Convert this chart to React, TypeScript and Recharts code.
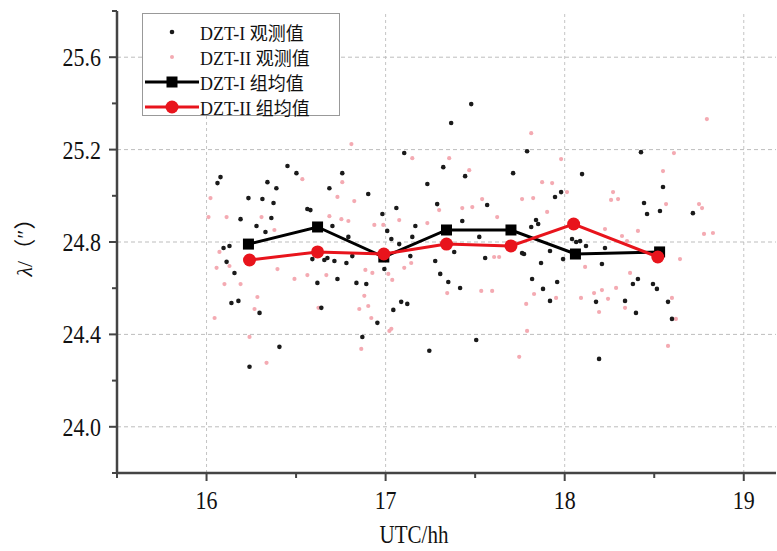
import React from 'react';
import { ScatterChart, Scatter, XAxis, YAxis, ReferenceLine } from 'recharts';

const seriesNames = ['DZT-I 观测值', 'DZT-II 观测值', 'DZT-I 组均值', 'DZT-II 组均值'];

const xTicks = [15.5, 16, 16.5, 17, 17.5, 18, 18.5, 19];
const xMajor = [16, 17, 18, 19];
const yTicks = [23.8, 24.0, 24.2, 24.4, 24.6, 24.8, 25.0, 25.2, 25.4, 25.6, 25.8];
const yMajor = [24.0, 24.4, 24.8, 25.2, 25.6];

// DZT-I observations [hour, value]
const dzt1Obs = [
  [16.078, 25.081], [16.061, 25.055], [16.095, 24.774], [16.128, 24.783], [16.112, 24.714],
  [16.156, 24.666], [16.139, 24.536], [16.178, 24.545], [16.234, 24.99], [16.19, 24.899],
  [16.279, 24.869], [16.312, 24.986], [16.296, 24.493], [16.24, 24.26], [16.34, 25.059],
  [16.39, 25.033], [16.374, 24.969], [16.362, 24.904], [16.329, 24.843], [16.452, 25.129],
  [16.502, 25.098], [16.407, 24.346], [16.563, 24.943], [16.58, 24.938], [16.686, 25.033],
  [16.758, 25.098], [16.703, 24.869], [16.591, 24.726], [16.658, 24.722], [16.675, 24.731],
  [16.714, 24.718], [16.781, 24.709], [16.731, 24.64], [16.619, 24.623], [16.641, 24.515],
  [16.837, 24.623], [16.892, 24.618], [16.903, 25.008], [16.792, 24.822], [16.814, 24.739],
  [16.87, 24.389], [16.954, 24.45], [16.982, 24.921], [17.009, 24.848], [17.032, 24.813],
  [17.06, 24.947], [17.043, 24.506], [16.993, 24.683], [17.478, 25.397], [17.366, 25.315],
  [17.104, 25.185], [17.322, 25.124], [17.444, 25.085], [17.233, 25.051], [17.79, 25.193],
  [17.712, 25.098], [17.288, 24.964], [17.567, 24.96], [17.166, 24.869], [17.149, 24.822],
  [17.076, 24.791], [17.428, 24.891], [17.523, 24.822], [17.946, 24.995], [17.98, 25.016],
  [17.84, 24.895], [17.852, 24.878], [17.813, 24.865], [17.383, 24.757], [17.138, 24.739],
  [17.277, 24.718], [17.556, 24.731], [17.762, 24.752], [17.773, 24.748], [17.868, 24.709],
  [17.918, 24.761], [17.991, 24.726], [17.305, 24.662], [17.35, 24.627], [17.416, 24.601],
  [17.818, 24.64], [17.958, 24.627], [17.879, 24.597], [17.918, 24.545], [17.087, 24.541],
  [17.121, 24.532], [17.506, 24.376], [17.244, 24.329], [18.175, 24.541], [18.192, 24.294],
  [18.097, 25.094], [18.426, 25.189], [18.549, 25.038], [18.443, 24.969], [18.46, 24.921],
  [18.532, 24.934], [18.716, 24.925], [18.041, 24.813], [18.064, 24.8], [18.086, 24.804],
  [18.119, 24.783], [18.225, 24.774], [18.208, 24.705], [18.409, 24.64], [18.381, 24.618],
  [18.493, 24.618], [18.515, 24.597], [18.337, 24.545], [18.577, 24.541], [18.398, 24.493],
  [18.599, 24.467],
];

// DZT-II observations [hour, value]
const dzt2Obs = [
  [16.022, 24.99], [16.011, 24.908], [16.112, 24.908], [16.072, 24.757], [16.056, 24.688],
  [16.1, 24.618], [16.045, 24.471], [16.128, 24.696], [16.19, 24.618], [16.284, 24.562],
  [16.268, 24.51], [16.24, 24.389], [16.335, 24.277], [16.307, 24.908], [16.379, 24.852],
  [16.396, 24.683], [16.535, 25.072], [16.491, 24.64], [16.563, 24.657], [16.669, 24.657],
  [16.625, 24.515], [16.686, 24.912], [16.753, 24.899], [16.792, 24.891], [16.731, 24.995],
  [16.825, 24.977], [16.758, 25.059], [16.809, 25.224], [16.881, 24.567], [16.903, 24.523],
  [16.853, 24.51], [16.92, 24.471], [16.864, 24.337], [17.021, 24.415], [16.887, 24.679],
  [16.926, 24.666], [16.987, 24.874], [16.937, 24.874], [17.015, 24.662], [17.037, 24.636],
  [17.149, 25.163], [17.355, 25.163], [17.467, 25.111], [17.813, 25.271], [17.98, 25.159],
  [17.874, 25.059], [17.299, 24.938], [17.484, 24.951], [17.539, 24.986], [17.623, 24.908],
  [17.762, 24.986], [17.824, 24.99], [17.902, 24.93], [18.013, 25.016], [17.076, 24.895],
  [17.233, 24.882], [17.428, 24.947], [17.606, 24.735], [17.634, 24.735], [17.104, 24.688],
  [17.143, 24.709], [17.344, 24.579], [17.534, 24.588], [17.595, 24.588], [17.829, 24.575],
  [17.785, 24.532], [17.032, 24.424], [17.79, 24.415], [17.746, 24.303], [17.952, 24.558],
  [17.93, 25.055], [18.794, 25.332], [18.61, 25.185], [18.549, 25.107], [18.27, 25.016],
  [18.259, 24.982], [18.298, 24.986], [18.566, 24.964], [18.75, 24.964], [18.767, 24.947],
  [18.778, 24.835], [18.828, 24.839], [18.225, 24.856], [18.409, 24.848], [18.32, 24.826],
  [18.348, 24.804], [18.644, 24.726], [18.114, 24.692], [18.365, 24.666], [18.287, 24.601],
  [18.208, 24.592], [18.164, 24.579], [18.242, 24.554], [18.091, 24.558], [18.337, 24.515],
  [18.192, 24.497], [18.599, 24.558], [18.621, 24.467], [18.577, 24.35],
];

const dzt1MeanX = [16.234, 16.62, 16.99, 17.34, 17.7, 18.06, 18.53];
const dzt1MeanY = [24.791, 24.865, 24.735, 24.852, 24.852, 24.748, 24.757];
const dzt2MeanX = [16.24, 16.62, 16.99, 17.34, 17.7, 18.05, 18.52];
const dzt2MeanY = [24.722, 24.757, 24.748, 24.791, 24.783, 24.878, 24.735];

const toPts = (arr: number[][]) => arr.map(([x, y]) => ({ x, y }));
const zip = (xs: number[], ys: number[]) => xs.map((x, i) => ({ x, y: ys[i] }));

const FONT = "'Liberation Serif', 'Times New Roman', 'Noto Sans CJK SC', serif";
const AXIS = '#444';
const RED = '#e8141c';
const PINK = '#f4aab2';

// taller, narrow glyphs like the source figure
const Txt = ({ x, y, anchor, size, children }: any) => (
  <text transform={`translate(${x} ${y}) scale(1 1.18)`} x={0} y={0} textAnchor={anchor} fontSize={size} fontFamily={FONT} fill="#111">
    {children}
  </text>
);

const BottomTick = (p: any) => {
  const major = xMajor.includes(p.payload.value);
  return (
    <g>
      <line x1={p.x} y1={p.y} x2={p.x} y2={p.y + (major ? 8 : 5)} stroke={AXIS} strokeWidth={2} />
      {major && <Txt x={p.x} y={p.y + 36} anchor="middle" size={22}>{p.payload.value}</Txt>}
    </g>
  );
};

const TopTick = (p: any) => {
  const major = xMajor.includes(p.payload.value);
  return <line x1={p.x} y1={p.y} x2={p.x} y2={p.y + (major ? 8 : 5)} stroke={AXIS} strokeWidth={2} />;
};

const LeftTick = (p: any) => {
  const v = Math.round(p.payload.value * 10) / 10;
  const major = yMajor.includes(v);
  return (
    <g>
      <line x1={p.x} y1={p.y} x2={p.x - (major ? 8 : 5)} y2={p.y} stroke={AXIS} strokeWidth={2} />
      {major && <Txt x={p.x - 16} y={p.y + 9} anchor="end" size={22}>{v.toFixed(1)}</Txt>}
    </g>
  );
};

const RightTick = (p: any) => {
  const v = Math.round(p.payload.value * 10) / 10;
  const major = yMajor.includes(v);
  return <line x1={p.x} y1={p.y} x2={p.x - (major ? 8 : 5)} y2={p.y} stroke={AXIS} strokeWidth={2} />;
};

const YTitle = (p: any) => {
  const vb = p.viewBox || { x: 0, y: 11, height: 462 };
  const cx = 24;
  const cy = vb.y + vb.height / 2;
  return (
    <text x={cx} y={cy} transform={`rotate(-90 ${cx} ${cy})`} textAnchor="middle" dominantBaseline="central" fontSize={22} fontFamily={FONT} fill="#111">
      <tspan fontStyle="italic">λ</tspan>/（″）
    </text>
  );
};

const XTitle = () => <Txt x={414} y={543} anchor="middle" size={21}>UTC/hh</Txt>;

const obsBlack = (p: any) => <circle cx={p.cx} cy={p.cy} r={2.3} fill="#1a1a1a" />;
const obsPink = (p: any) => <circle cx={p.cx} cy={p.cy} r={2.1} fill={PINK} />;
const meanSquare = (p: any) => <rect x={p.cx - 5.5} y={p.cy - 5.5} width={11} height={11} fill="#000" />;
const meanCircle = (p: any) => <circle cx={p.cx} cy={p.cy} r={6.5} fill={RED} />;

const LegendSwatch = ({ kind }: { kind: number }) => (
  <svg width={54} height={24} style={{ display: 'block' }}>
    {kind === 0 && <circle cx={27} cy={12} r={2.3} fill="#1a1a1a" />}
    {kind === 1 && <circle cx={27} cy={12} r={2} fill={PINK} />}
    {kind === 2 && (
      <g>
        <line x1={0} y1={12} x2={54} y2={12} stroke="#000" strokeWidth={3} />
        <rect x={21.5} y={6.5} width={11} height={11} fill="#000" />
      </g>
    )}
    {kind === 3 && (
      <g>
        <line x1={0} y1={12} x2={54} y2={12} stroke={RED} strokeWidth={3} />
        <circle cx={27} cy={12} r={6.5} fill={RED} />
      </g>
    )}
  </svg>
);

export default function App() {
  return (
    <div style={{ position: 'absolute', left: 0, top: 0, width: 777, height: 551, overflow: 'hidden', background: '#fff' }}>
      <ScatterChart width={777} height={551} margin={{ top: 11, right: 1, bottom: 0, left: 0 }}>
        <XAxis
          dataKey="x"
          type="number"
          domain={[15.5, 19.18]}
          ticks={xTicks}
          interval={0}
          height={78}
          tickSize={0}
          tickMargin={0}
          tickLine={false}
          tick={<BottomTick />}
          axisLine={{ stroke: AXIS, strokeWidth: 2.5 }}
          allowDataOverflow
          label={<XTitle />}
        />
        <XAxis
          xAxisId="top"
          orientation="top"
          dataKey="x"
          type="number"
          domain={[15.5, 19.18]}
          ticks={xTicks}
          interval={0}
          height={0}
          tickSize={0}
          tickMargin={0}
          tickLine={false}
          tick={<TopTick />}
          axisLine={{ stroke: AXIS, strokeWidth: 2.5 }}
          allowDataOverflow
        />
        <YAxis
          dataKey="y"
          type="number"
          domain={[23.8, 25.8]}
          ticks={yTicks}
          interval={0}
          width={117}
          tickSize={0}
          tickMargin={0}
          tickLine={false}
          tick={<LeftTick />}
          axisLine={{ stroke: AXIS, strokeWidth: 2.5 }}
          allowDataOverflow
          label={<YTitle />}
        />
        <YAxis
          yAxisId="right"
          orientation="right"
          dataKey="y"
          type="number"
          domain={[23.8, 25.8]}
          ticks={yTicks}
          interval={0}
          width={0}
          tickSize={0}
          tickMargin={0}
          tickLine={false}
          tick={<RightTick />}
          axisLine={{ stroke: AXIS, strokeWidth: 2.5 }}
          allowDataOverflow
        />
        {xMajor.map((v) => (
          <ReferenceLine key={'vx' + v} x={v} stroke="#c4c4c4" strokeDasharray="3 3" strokeWidth={1} />
        ))}
        {yMajor.map((v) => (
          <ReferenceLine key={'hy' + v} y={v} stroke="#bdbdbd" strokeDasharray="4 3" strokeWidth={1} />
        ))}
        <Scatter name={seriesNames[1]} data={toPts(dzt2Obs)} fill={PINK} shape={obsPink} isAnimationActive={false} />
        <Scatter name={seriesNames[0]} data={toPts(dzt1Obs)} fill="#1a1a1a" shape={obsBlack} isAnimationActive={false} />
        <Scatter
          name={seriesNames[2]}
          data={zip(dzt1MeanX, dzt1MeanY)}
          fill="#000"
          line={{ stroke: '#000', strokeWidth: 3 }}
          shape={meanSquare}
          isAnimationActive={false}
        />
        <Scatter
          name={seriesNames[3]}
          data={zip(dzt2MeanX, dzt2MeanY)}
          fill={RED}
          line={{ stroke: RED, strokeWidth: 3 }}
          shape={meanCircle}
          isAnimationActive={false}
        />
      </ScatterChart>
      <div
        style={{
          position: 'absolute',
          left: 142,
          top: 13,
          width: 198,
          height: 103,
          border: '1px solid #999',
          background: '#fff',
          padding: '5px 0 0 2px',
          boxSizing: 'border-box',
          fontFamily: FONT,
          fontSize: 18,
          color: '#111',
        }}
      >
        {seriesNames.map((n, i) => (
          <div key={n} style={{ display: 'flex', alignItems: 'center', height: 25 }}>
            <LegendSwatch kind={i} />
            <span style={{ marginLeft: 1, whiteSpace: 'nowrap' }}>{n}</span>
          </div>
        ))}
      </div>
    </div>
  );
}
